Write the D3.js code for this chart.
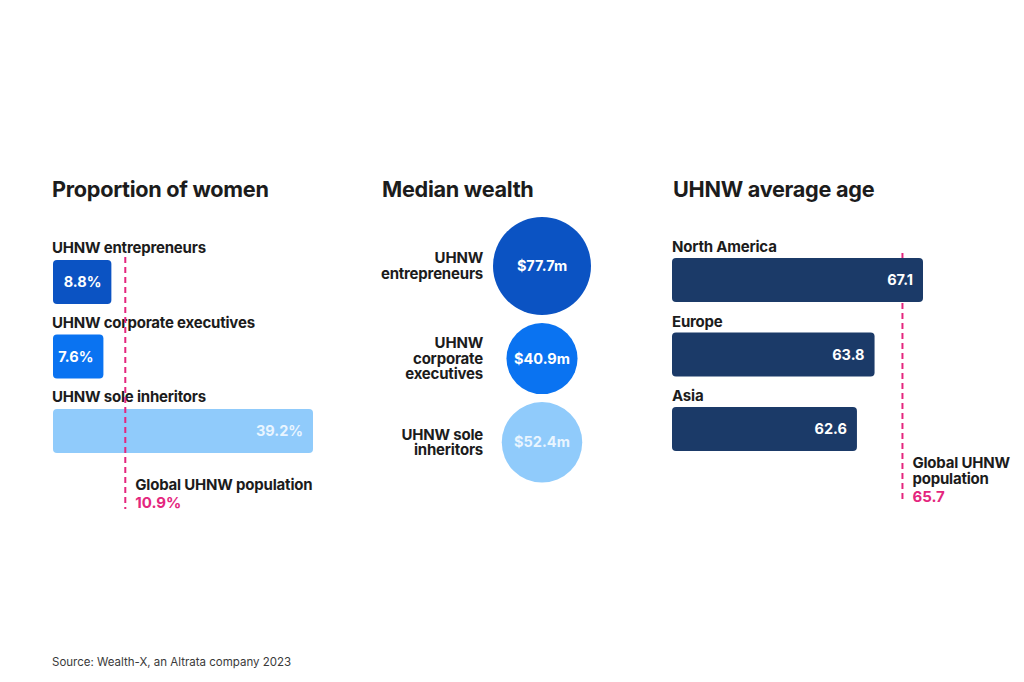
<!DOCTYPE html>
<html><head><meta charset="utf-8">
<script src="https://cdn.jsdelivr.net/npm/d3@7"></script>
<style>
html,body{margin:0;padding:0;background:#fff;}
svg{display:block;font-family:Inter,"Noto Sans",sans-serif;}
</style></head>
<body>
<svg id="chart" width="1024" height="682"></svg>
<script>
// ---- data ----
const womenCategories = ["UHNW entrepreneurs", "UHNW corporate executives", "UHNW sole inheritors"];
const womenValues = [8.8, 7.6, 39.2];
const womenGlobal = 10.9;
const womenGlobalLabel = "Global UHNW population";

const wealthCategories = [["UHNW", "entrepreneurs"], ["UHNW", "corporate", "executives"], ["UHNW sole", "inheritors"]];
const wealthValues = [77.7, 40.9, 52.4];

const ageCategories = ["North America", "Europe", "Asia"];
const ageValues = [67.1, 63.8, 62.6];
const ageGlobal = 65.7;
const ageGlobalLabel = ["Global UHNW", "population"];

const titles = ["Proportion of women", "Median wealth", "UHNW average age"];
const sourceText = "Source: Wealth-X, an Altrata company 2023";

const groupColors = ["#0b53c3", "#0a73f1", "#90cbfb"];
const navy = "#1b3a68";
const pink = "#e4267e";
const ink = "#1c1c1c";
const labelSize = 15;

const svg = d3.select("#chart");

// titles
const titleX = [52, 382, 673];
titles.forEach((t, i) => {
  svg.append("text").attr("x", titleX[i]).attr("y", 197)
    .attr("font-size", 21.7).attr("font-weight", 700).attr("fill", ink)
    .attr("letter-spacing", -0.3).text(t);
});

// ---- Panel 1: Proportion of women ----
const x1 = d3.scaleLinear().domain([0, d3.max(womenValues)]).range([53, 313]);
const y1 = d3.scaleBand().domain(womenCategories).range([260, 453]).paddingInner(0.41).paddingOuter(0);
const p1 = svg.append("g");
p1.selectAll("text.cat").data(womenCategories).join("text")
  .attr("x", 52).attr("y", d => y1(d) - 7)
  .attr("font-size", labelSize).attr("font-weight", 700).attr("fill", ink).attr("letter-spacing", -0.2)
  .text(d => d);
p1.selectAll("rect").data(womenValues).join("rect")
  .attr("x", x1(0)).attr("y", (d, i) => y1(womenCategories[i]))
  .attr("width", d => x1(d) - x1(0)).attr("height", y1.bandwidth())
  .attr("rx", 4).attr("fill", (d, i) => groupColors[i]);
p1.append("line").attr("x1", x1(womenGlobal)).attr("x2", x1(womenGlobal))
  .attr("y1", 257).attr("y2", 509)
  .attr("stroke", pink).attr("stroke-width", 2).attr("stroke-dasharray", "6,4");
p1.selectAll("text.val").data(womenValues).join("text")
  .attr("x", d => x1(d) - 10).attr("y", (d, i) => y1(womenCategories[i]) + y1.bandwidth() / 2 + 5)
  .attr("text-anchor", "end").attr("font-size", 14.5).attr("font-weight", 700)
  .attr("fill", (d, i) => i === 2 ? "#e9f5ff" : "#fff")
  .text(d => d.toFixed(1) + "%");
p1.append("text").attr("x", x1(womenGlobal) + 10).attr("y", 490)
  .attr("font-size", labelSize).attr("font-weight", 700).attr("fill", ink).attr("letter-spacing", -0.2)
  .text(womenGlobalLabel);
p1.append("text").attr("x", x1(womenGlobal) + 10).attr("y", 508)
  .attr("font-size", labelSize).attr("font-weight", 700).attr("fill", pink)
  .text(womenGlobal.toFixed(1) + "%");

// ---- Panel 2: Median wealth ----
const r = d3.scaleSqrt().domain([0, d3.max(wealthValues)]).range([0, 49]);
const cx = 542;
let yCursor = 217;
const centers = wealthValues.map(v => { const c = yCursor + r(v); yCursor = c + r(v) + 8; return c; });
const p2 = svg.append("g");
p2.selectAll("circle").data(wealthValues).join("circle")
  .attr("cx", cx).attr("cy", (d, i) => centers[i]).attr("r", d => r(d))
  .attr("fill", (d, i) => groupColors[i]);
p2.selectAll("text.val").data(wealthValues).join("text")
  .attr("x", cx).attr("y", (d, i) => centers[i] + 5)
  .attr("text-anchor", "middle").attr("font-size", 14.5).attr("font-weight", 700)
  .attr("fill", (d, i) => i === 2 ? "#e9f5ff" : "#fff")
  .text(d => "$" + d.toFixed(1) + "m");
wealthCategories.forEach((lines, i) => {
  const lh = 15.5;
  const firstBase = centers[i] + 5 - (lines.length - 1) * lh / 2;
  const t = p2.append("text").attr("text-anchor", "end")
    .attr("font-size", labelSize).attr("font-weight", 700).attr("fill", ink).attr("letter-spacing", -0.2);
  lines.forEach((ln, j) => {
    t.append("tspan").attr("x", 483).attr("y", firstBase + j * lh).text(ln);
  });
});

// ---- Panel 3: UHNW average age ----
const x3 = d3.scaleLinear().domain([50, d3.max(ageValues)]).range([672, 923]);
const y3 = d3.scaleBand().domain(ageCategories).range([258, 451]).paddingInner(0.41).paddingOuter(0);
const p3 = svg.append("g");
p3.selectAll("text.cat").data(ageCategories).join("text")
  .attr("x", 672).attr("y", d => y3(d) - 6)
  .attr("font-size", labelSize).attr("font-weight", 700).attr("fill", ink).attr("letter-spacing", -0.2)
  .text(d => d);
p3.append("line").attr("x1", x3(ageGlobal)).attr("x2", x3(ageGlobal))
  .attr("y1", 253).attr("y2", 503)
  .attr("stroke", pink).attr("stroke-width", 2).attr("stroke-dasharray", "6,4");
p3.selectAll("rect").data(ageValues).join("rect")
  .attr("x", x3(50)).attr("y", (d, i) => y3(ageCategories[i]))
  .attr("width", d => x3(d) - x3(50)).attr("height", y3.bandwidth())
  .attr("rx", 4).attr("fill", navy);
p3.selectAll("text.val").data(ageValues).join("text")
  .attr("x", d => x3(d) - 10).attr("y", (d, i) => y3(ageCategories[i]) + y3.bandwidth() / 2 + 5)
  .attr("text-anchor", "end").attr("font-size", 14.5).attr("font-weight", 700).attr("fill", "#fff")
  .text(d => d.toFixed(1));
const gl = p3.append("text").attr("font-size", labelSize).attr("font-weight", 700).attr("fill", ink).attr("letter-spacing", -0.2);
ageGlobalLabel.forEach((ln, j) => {
  gl.append("tspan").attr("x", x3(ageGlobal) + 10).attr("y", 468 + j * 15.5).text(ln);
});
p3.append("text").attr("x", x3(ageGlobal) + 10).attr("y", 502)
  .attr("font-size", labelSize).attr("font-weight", 700).attr("fill", pink)
  .text(ageGlobal.toFixed(1));

// source
svg.append("text").attr("x", 52).attr("y", 666)
  .attr("font-size", 11.5).attr("fill", "#3a3a3a").text(sourceText);
</script>
</body></html>
